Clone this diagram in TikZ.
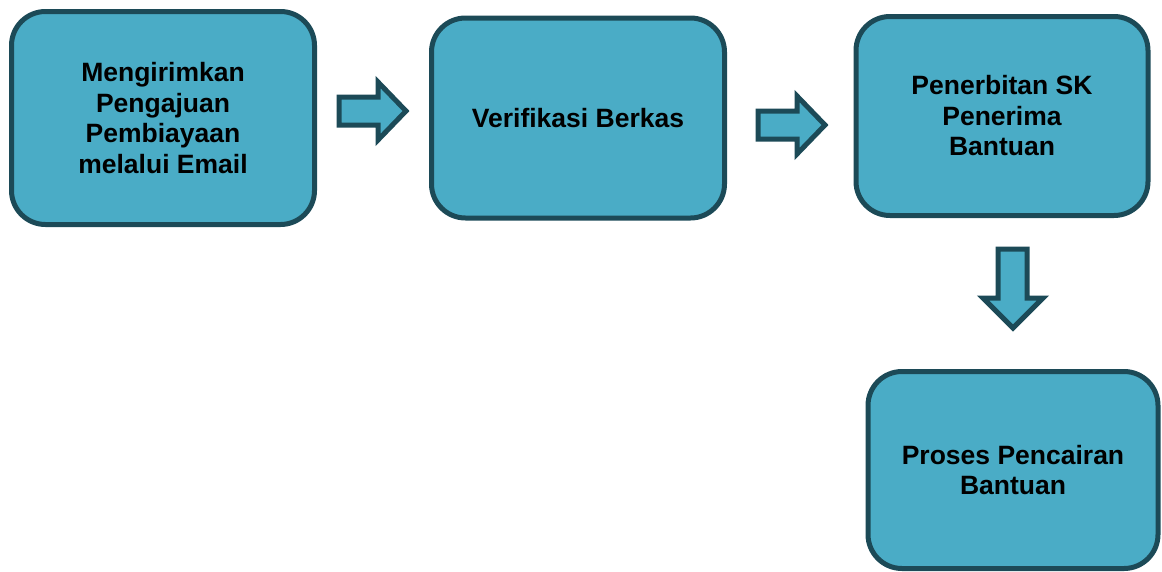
\documentclass[tikz,border=0pt]{standalone}
\usepackage{fontspec}
\setmainfont{Liberation Sans}
\definecolor{boxfill}{HTML}{4AACC6}
\definecolor{boxline}{HTML}{1C4A57}
\tikzset{
  stepbox/.style={draw=boxline, fill=boxfill, line width=5pt, rounded corners=34pt,
    align=center, font=\fontsize{26.5pt}{30.5pt}\selectfont\bfseries, text=black, inner sep=0pt},
  blockarrow/.style={draw=boxline, fill=boxfill, line width=5pt, miter limit=10}
}
\begin{document}
\begin{tikzpicture}[x=1pt, y=-1pt]
\useasboundingbox (0,0) rectangle (1162,571);
\node[stepbox, minimum width=303pt, minimum height=213pt] (s1) at (163,118)
  {Mengirimkan\\Pengajuan\\Pembiayaan\\melalui Email};
\node[stepbox, minimum width=293pt, minimum height=200pt] (s2) at (578,118)
  {Verifikasi Berkas};
\node[stepbox, minimum width=292pt, minimum height=199pt] (s3) at (1002,116)
  {Penerbitan SK\\Penerima\\Bantuan};
\node[stepbox, minimum width=290pt, minimum height=197pt] (s4) at (1013,470)
  {Proses Pencairan\\Bantuan};
% block arrows between the steps
\draw[blockarrow] (339,97) -- (378,97) -- (378,82) -- (406,111) -- (378,140) -- (378,125) -- (339,125) -- cycle;
\draw[blockarrow] (758,111) -- (797,111) -- (797,96) -- (825,125) -- (797,154) -- (797,139) -- (758,139) -- cycle;
\draw[blockarrow] (998,249) -- (1027,249) -- (1027,298) -- (1043,298) -- (1013,328) -- (983,298) -- (998,298) -- cycle;
\end{tikzpicture}
\end{document}
